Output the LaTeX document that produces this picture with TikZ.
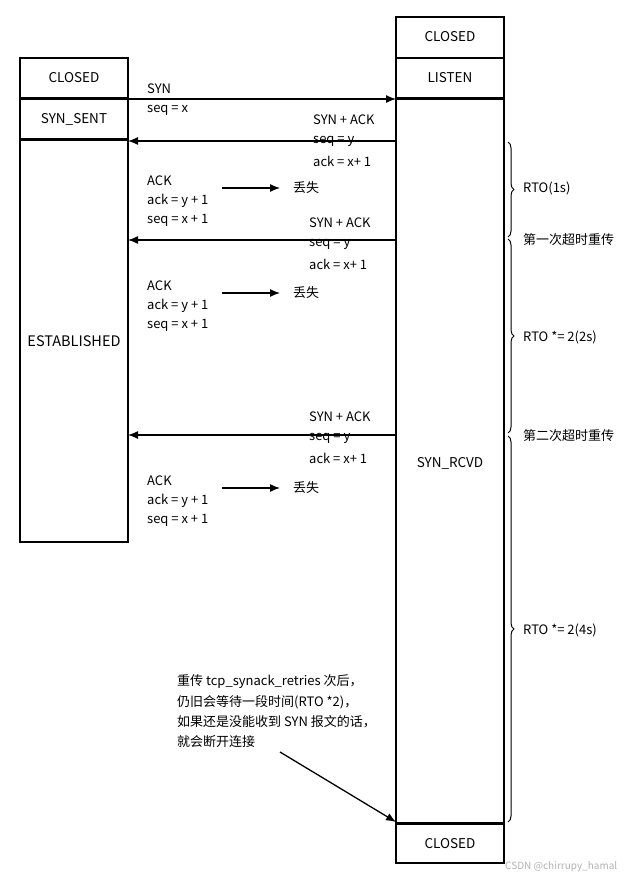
\documentclass[tikz,border=0pt]{standalone}
\usepackage{fontspec}
\setmainfont{Noto Sans CJK SC}
\usetikzlibrary{decorations.pathreplacing,arrows.meta}
\begin{document}
\begin{tikzpicture}[x=1pt,y=-1pt,
 lbl/.style={anchor=west,inner sep=0pt,font=\fontsize{13}{13}\selectfont},
 st/.style={inner sep=0pt,font=\fontsize{13.5}{13.5}\selectfont},
 arr/.style={-{Latex[length=10pt,width=8pt]},line width=1.3pt},
 box/.style={draw,line width=1.5pt},
 thick2/.style={line width=3pt}]
\useasboundingbox (0,0) rectangle (629,882);
% left column
\draw[box] (20,58) rectangle (128,542);
\draw[thick2] (20,99) -- (128,99);
\draw[thick2] (20,140) -- (128,140);
\node[st] (lc) at (74,78) {CLOSED};
\node[st] (ls) at (74,119) {SYN\_SENT};
\node[st,font=\fontsize{14.5}{14.5}\selectfont] (le) at (74,341) {ESTABLISHED};
% right column
\draw[box] (396,17) rectangle (504,863);
\draw[line width=1.5pt] (396,58) -- (504,58);
\draw[thick2] (396,99) -- (504,99);
\draw[thick2] (396,823) -- (504,823);
\node[st] (rc) at (450,37) {CLOSED};
\node[st] (rl) at (450,78) {LISTEN};
\node[st] (rs) at (450,463) {SYN\_RCVD};
\node[st] (rc2) at (450,844) {CLOSED};
% coordinates
\coordinate (a1) at (128,99); \coordinate (b1) at (396,99);
\coordinate (a2) at (128,141); \coordinate (b2) at (396,141);
\coordinate (a3) at (128,240); \coordinate (b3) at (396,240);
\coordinate (a4) at (128,435); \coordinate (b4) at (396,435);
\draw[arr] (a1) -- (b1);
\draw[arr] (b2) -- (a2);
\draw[arr] (b3) -- (a3);
\draw[arr] (b4) -- (a4);
\node[lbl] at (147,89) {SYN};
\node[lbl] at (147,110) {seq = x};
\node[lbl] at (313,120) {SYN + ACK};
\node[lbl] at (313,141) {seq = y};
\node[lbl] at (313,161) {ack = x+ 1};
\node[lbl] at (309,223) {SYN + ACK};
\node[lbl] at (309,244) {seq = y};
\node[lbl] at (309,264) {ack = x+ 1};
\node[lbl] at (309,417) {SYN + ACK};
\node[lbl] at (309,438) {seq = y};
\node[lbl] at (309,458) {ack = x+ 1};
% ACK lost
\foreach \y/\n in {181/1,286/2,481/3}{
 \node[lbl] at (147,\y) {ACK};
 \node[lbl] at (147,\y+20) {ack = y + 1};
 \node[lbl] at (147,\y+39) {seq = x + 1};
 \coordinate (p\n) at (222,\y+7);
 \node[lbl] (l\n) at (293,\y+7) {丢失};
 \draw[arr] (p\n) -- (280,\y+7);
}
% braces
\draw[line width=1pt,decorate,decoration={brace,amplitude=6pt}] (508,142) -- (508,237);
\draw[line width=1pt,decorate,decoration={brace,amplitude=6pt}] (508,239) -- (508,433);
\draw[line width=1pt,decorate,decoration={brace,amplitude=6pt}] (508,436) -- (508,822);
\node[lbl] at (523,188) {RTO(1s)};
\node[lbl] at (523,240) {第一次超时重传};
\node[lbl] at (523,337) {RTO *= 2(2s)};
\node[lbl] at (523,436) {第二次超时重传};
\node[lbl] at (523,630) {RTO *= 2(4s)};
% note
\node[lbl] at (177,682) {重传 tcp\_synack\_retries 次后，};
\node[lbl] at (177,702) {仍旧会等待一段时间(RTO *2)，};
\node[lbl] at (177,722) {如果还是没能收到 SYN 报文的话，};
\node[lbl] (nt) at (177,742) {就会断开连接};
\coordinate (n0) at (280,752);
\coordinate (n1) at (396,822);
\draw[arr] (n0) -- (n1);
\node[lbl,text=gray!60,font=\fontsize{10}{10}\selectfont] at (505,867) {CSDN @chirrupy\_hamal};
\end{tikzpicture}
\end{document}
